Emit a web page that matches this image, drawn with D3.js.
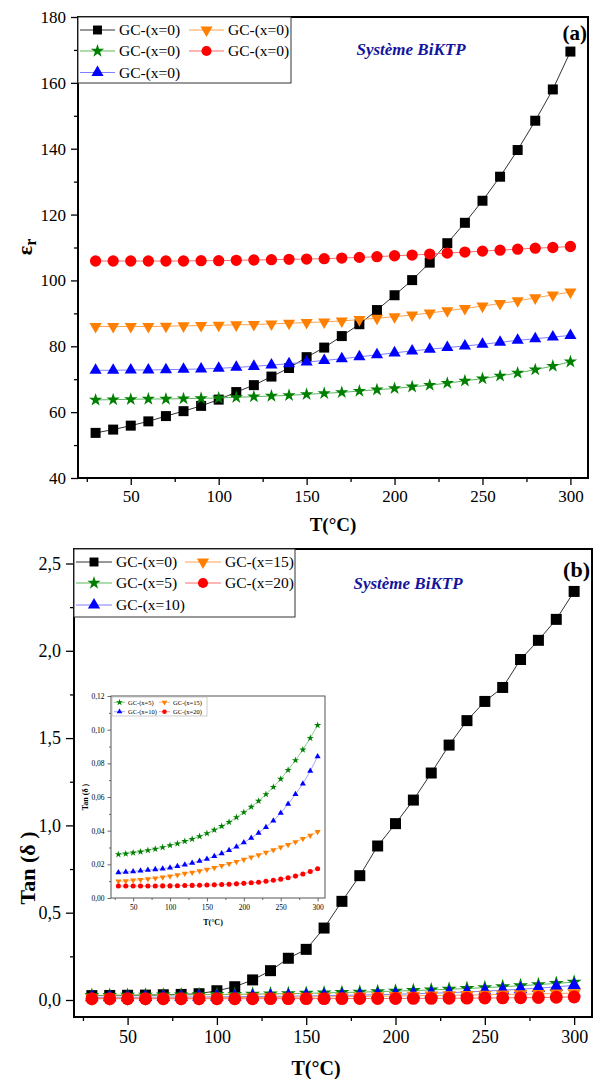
<!DOCTYPE html>
<html><head><meta charset="utf-8">
<script src="https://cdn.jsdelivr.net/npm/d3@7"></script>
<style>body{margin:0;background:#fff} svg{display:block}</style>
</head><body><svg id="c" width="594" height="1079"></svg>
<script>
// ---------- DATA ----------
const temps = [30,40,50,60,70,80,90,100,110,120,130,140,150,160,170,180,190,200,210,220,230,240,250,260,270,280,290,300];

// Panel (a): dielectric permittivity
const epsX0  = [53.7,54.7,55.9,57.2,58.8,60.3,61.9,63.8,66.1,68.2,70.8,73.4,76.7,79.6,83.1,86.7,91.0,95.5,100.1,105.4,111.3,117.5,124.2,131.5,139.6,148.5,158.0,169.5];
const epsX5  = [63.7,63.8,63.9,64.0,64.0,64.1,64.2,64.3,64.5,64.7,64.9,65.1,65.4,65.7,66.0,66.4,66.8,67.2,67.7,68.2,68.8,69.5,70.2,71.0,71.9,72.9,74.0,75.3];
const epsX10 = [72.7,72.7,72.8,72.8,72.9,73.0,73.1,73.3,73.6,73.9,74.3,74.7,75.2,75.7,76.2,76.8,77.4,78.0,78.6,79.1,79.6,80.1,80.6,81.2,81.8,82.3,82.8,83.3];
const epsX15 = [86.0,86.0,86.0,86.0,86.1,86.2,86.3,86.4,86.5,86.6,86.8,87.0,87.2,87.4,87.7,88.1,88.5,89.0,89.5,90.1,90.8,91.5,92.2,93.0,93.8,94.7,95.6,96.5];
const epsX20 = [105.9,105.9,105.9,105.9,105.9,105.9,106.0,106.0,106.1,106.2,106.3,106.4,106.5,106.6,106.8,107.0,107.2,107.5,107.7,108.0,108.3,108.6,108.9,109.2,109.5,109.8,110.0,110.3];

// Panel (b): loss tangent
const tanX0  = [0.025,0.026,0.027,0.028,0.030,0.032,0.036,0.053,0.076,0.115,0.168,0.239,0.290,0.412,0.565,0.712,0.882,1.010,1.145,1.300,1.460,1.600,1.710,1.790,1.950,2.060,2.180,2.340];
const tanX5  = [0.0259,0.0263,0.0269,0.0275,0.0283,0.0291,0.0301,0.0313,0.0323,0.0337,0.0350,0.0366,0.0384,0.0404,0.0426,0.0451,0.0479,0.0509,0.0541,0.0576,0.0616,0.0659,0.0707,0.0760,0.0818,0.0881,0.0950,0.1026];
const tanX10 = [0.0152,0.0154,0.0158,0.0162,0.0166,0.0170,0.0174,0.0180,0.0188,0.0198,0.0208,0.0220,0.0232,0.0248,0.0265,0.0283,0.0305,0.0329,0.0356,0.0386,0.0420,0.0459,0.0505,0.0558,0.0616,0.0679,0.0754,0.0840];
const tanX15 = [0.0099,0.0101,0.0105,0.0109,0.0113,0.0117,0.0123,0.0129,0.0137,0.0145,0.0152,0.0160,0.0170,0.0180,0.0192,0.0204,0.0216,0.0228,0.0242,0.0255,0.0271,0.0285,0.0301,0.0317,0.0333,0.0352,0.0372,0.0394];
const tanX20 = [0.0071,0.0071,0.0071,0.0071,0.0071,0.0071,0.0072,0.0072,0.0073,0.0074,0.0075,0.0076,0.0077,0.0078,0.0080,0.0082,0.0084,0.0087,0.0090,0.0094,0.0099,0.0105,0.0112,0.0120,0.0130,0.0142,0.0157,0.0174];

// legend labels
const legendA = ["GC-(x=0)","GC-(x=0)","GC-(x=0)","GC-(x=0)","GC-(x=0)"];
const legendB = ["GC-(x=0)","GC-(x=5)","GC-(x=10)","GC-(x=15)","GC-(x=20)"];
const legendInset = ["GC-(x=5)","GC-(x=15)","GC-(x=10)","GC-(x=20)"];

// ticks
const xTicks = [50,100,150,200,250,300];
const xMinor = [25,75,125,175,225,275];
const yTicksA = [40,60,80,100,120,140,160,180];
const yMinorA = [50,70,90,110,130,150,170];
const yTicksB = [0,0.5,1.0,1.5,2.0,2.5];
const yMinorB = [0.25,0.75,1.25,1.75,2.25];
const yTicksIn = [0,0.02,0.04,0.06,0.08,0.10,0.12];
const yMinorIn = [0.01,0.03,0.05,0.07,0.09,0.11];

// ---------- STYLES ----------
const styles = [
  {color:"#000000", line:"#333333", sym:"square"},
  {color:"#008000", line:"#5cb85c", sym:"star"},
  {color:"#0000ff", line:"#7f7fff", sym:"up"},
  {color:"#ff8000", line:"#ffa24d", sym:"down"},
  {color:"#ff0000", line:"#ff6b6b", sym:"circle"}
];
const SERIF = "'Liberation Serif','Times New Roman',serif";
const svg = d3.select("#c");

function symPath(kind, size){
  const t = {square:d3.symbolSquare, star:d3.symbolStar, up:d3.symbolTriangle, down:d3.symbolTriangle, circle:d3.symbolCircle}[kind];
  return d3.symbol().type(t).size(size)();
}
function marker(g, kind, cx, cy, size, color){
  g.append("path").attr("d", symPath(kind,size)).attr("fill", color)
   .attr("transform", `translate(${cx},${cy})` + (kind==="down" ? " rotate(180)" : ""));
}
function comma(v, d){ return v.toFixed(d).replace(".", ","); }

function drawAxes(g, x, y, box, o){
  // bottom
  const ax = d3.axisBottom(x).tickValues(xTicks).tickSize(o.major).tickSizeOuter(0).tickPadding(o.pad);
  const gx = g.append("g").attr("transform",`translate(0,${box.b})`).call(ax);
  gx.select(".domain").remove();
  gx.selectAll("text").attr("font-family",SERIF).attr("font-size",o.fs).attr("fill","#000");
  gx.selectAll("line").attr("stroke",o.stroke).attr("stroke-width",o.tw);
  const gxm = g.append("g").attr("transform",`translate(0,${box.b})`).call(d3.axisBottom(x).tickValues(xMinor).tickSize(o.minor).tickFormat(""));
  gxm.select(".domain").remove();
  gxm.selectAll("line").attr("stroke",o.stroke).attr("stroke-width",o.tw);
  // left
  const ay = d3.axisLeft(y).tickValues(o.yt).tickSize(o.major).tickPadding(o.pad).tickFormat(o.fmt);
  const gy = g.append("g").attr("transform",`translate(${box.l},0)`).call(ay);
  gy.select(".domain").remove();
  gy.selectAll("text").attr("font-family",SERIF).attr("font-size",o.fs).attr("fill","#000");
  gy.selectAll("line").attr("stroke",o.stroke).attr("stroke-width",o.tw);
  const gym = g.append("g").attr("transform",`translate(${box.l},0)`).call(d3.axisLeft(y).tickValues(o.ym).tickSize(o.minor).tickFormat(""));
  gym.select(".domain").remove();
  gym.selectAll("line").attr("stroke",o.stroke).attr("stroke-width",o.tw);
}

function drawSeries(g, x, y, series, sizes, lw){
  series.forEach((vals, i) => {
    const st = styles[i];
    const line = d3.line().x((d,j)=>x(temps[j])).y(d=>y(d));
    g.append("path").datum(vals).attr("d", line).attr("fill","none").attr("stroke",st.line).attr("stroke-width",lw);
    vals.forEach((v,j)=> marker(g, st.sym, x(temps[j]), y(v), sizes[st.sym], st.color));
  });
}

function drawLegend(g, entries, o){
  g.append("rect").attr("x",o.x).attr("y",o.y).attr("width",o.w).attr("height",o.h)
    .attr("fill","#fff").attr("stroke",o.border).attr("stroke-width",o.bw);
  entries.forEach(e => {
    const st = styles[e.s];
    const cx = o.cols[e.col], cy = o.rows[e.row];
    g.append("line").attr("x1",cx).attr("x2",cx+o.len).attr("y1",cy).attr("y2",cy).attr("stroke",st.line).attr("stroke-width",o.lw);
    marker(g, st.sym, cx+o.len/2, cy, o.sizes[st.sym], st.color);
    g.append("text").attr("x",cx+o.len+o.gap).attr("y",cy).attr("dy","0.35em")
     .attr("font-family",SERIF).attr("font-size",o.fs).text(e.label);
  });
}

// ---------- PANEL (a) ----------
{
  const box = {l:78, r:588, t:17, b:478};
  const x = d3.scaleLinear().domain([20,310]).range([box.l, box.r]);
  const y = d3.scaleLinear().domain([40,180]).range([box.b, box.t]);
  const g = svg.append("g");
  drawAxes(g, x, y, box, {major:7, minor:4, pad:5, fs:17, tw:1.3, stroke:"#000", yt:yTicksA, ym:yMinorA, fmt:d=>d});
  drawSeries(g, x, y, [epsX0,epsX5,epsX10,epsX15,epsX20],
     {square:100, star:55, up:64, down:64, circle:100}, 1);
  g.append("rect").attr("x",box.l).attr("y",box.t).attr("width",box.r-box.l).attr("height",box.b-box.t)
    .attr("fill","none").attr("stroke","#000").attr("stroke-width",2);
  drawLegend(g, [
     {s:0,label:legendA[0],col:0,row:0},{s:3,label:legendA[1],col:1,row:0},
     {s:1,label:legendA[2],col:0,row:1},{s:4,label:legendA[3],col:1,row:1},
     {s:2,label:legendA[4],col:0,row:2}],
     {x:78,y:17,w:213,h:66,border:"#333",bw:1,cols:[80,189],rows:[30,51,72.5],len:35,gap:4,fs:15.5,lw:1,
      sizes:{square:80, star:55, up:64, down:64, circle:80}});
  g.append("text").attr("x",411).attr("y",49).attr("dy","0.35em").attr("text-anchor","middle")
    .attr("font-family",SERIF).attr("font-weight","bold").attr("font-style","italic").attr("font-size",17)
    .attr("fill","#14149c").text("Système BiKTP");
  g.append("text").attr("x",587).attr("y",40).attr("text-anchor","end")
    .attr("font-family",SERIF).attr("font-weight","bold").attr("font-size",21).text("(a)");
  g.append("text").attr("x",333).attr("y",524).attr("dy","0.35em").attr("text-anchor","middle")
    .attr("font-family",SERIF).attr("font-weight","bold").attr("font-size",19).text("T(°C)");
  const yl = g.append("text").attr("transform","translate(32,247) rotate(-90)").attr("text-anchor","middle")
    .attr("font-family",SERIF).attr("font-weight","bold").attr("font-size",22);
  yl.append("tspan").text("ε");
  yl.append("tspan").attr("font-size",16).attr("dy",4).text("r");
}

// ---------- PANEL (b) ----------
{
  const box = {l:74, r:592, t:549, b:1017};
  const x = d3.scaleLinear().domain([20,310]).range([box.l, box.r]);
  const y = d3.scaleLinear().domain([-0.0974, 2.583]).range([box.b, box.t]);
  const g = svg.append("g");
  drawAxes(g, x, y, box, {major:8, minor:4, pad:5, fs:18, tw:1.3, stroke:"#000", yt:yTicksB, ym:yMinorB, fmt:d=>comma(d,1)});
  drawSeries(g, x, y, [tanX0,tanX5,tanX10,tanX15,tanX20],
     {square:121, star:70, up:80, down:80, circle:130}, 1);
  g.append("rect").attr("x",box.l).attr("y",box.t).attr("width",box.r-box.l).attr("height",box.b-box.t)
    .attr("fill","none").attr("stroke","#000").attr("stroke-width",2);
  drawLegend(g, [
     {s:0,label:legendB[0],col:0,row:0},{s:3,label:legendB[3],col:1,row:0},
     {s:1,label:legendB[1],col:0,row:1},{s:4,label:legendB[4],col:1,row:1},
     {s:2,label:legendB[2],col:0,row:2}],
     {x:74,y:549,w:221,h:68,border:"#333",bw:1,cols:[76,185],rows:[562,583,605],len:36,gap:4,fs:15.5,lw:1,
      sizes:{square:80, star:55, up:64, down:64, circle:80}});
  g.append("text").attr("x",408).attr("y",583).attr("dy","0.35em").attr("text-anchor","middle")
    .attr("font-family",SERIF).attr("font-weight","bold").attr("font-style","italic").attr("font-size",17)
    .attr("fill","#14149c").text("Système BiKTP");
  g.append("text").attr("x",590).attr("y",577).attr("text-anchor","end")
    .attr("font-family",SERIF).attr("font-weight","bold").attr("font-size",22).text("(b)");
  g.append("text").attr("x",316).attr("y",1068).attr("dy","0.35em").attr("text-anchor","middle")
    .attr("font-family",SERIF).attr("font-weight","bold").attr("font-size",20).text("T(°C)");
  g.append("text").attr("transform","translate(35,868) rotate(-90)").attr("text-anchor","middle")
    .attr("font-family",SERIF).attr("font-weight","bold").attr("font-size",22).text("Tan (δ )");

  // ---------- INSET ----------
  const ib = {l:111, r:325, t:696, b:898};
  const xi = d3.scaleLinear().domain([20,310]).range([ib.l, ib.r]);
  const yi = d3.scaleLinear().domain([0,0.12]).range([ib.b, ib.t]);
  const gi = g.append("g");
  gi.append("rect").attr("x",ib.l).attr("y",ib.t).attr("width",ib.r-ib.l).attr("height",ib.b-ib.t).attr("fill","#fff");
  drawAxes(gi, xi, yi, ib, {major:3.5, minor:2, pad:3, fs:7.5, tw:0.8, stroke:"#444", yt:yTicksIn, ym:yMinorIn, fmt:d=>comma(d,2)});
  const inStyles = [null];
  // inset series use styles 1..4 (x=5,10,15,20)
  [[1,tanX5],[2,tanX10],[3,tanX15],[4,tanX20]].forEach(([si, vals]) => {
    const st = styles[si];
    const line = d3.line().x((d,j)=>xi(temps[j])).y(d=>yi(d));
    gi.append("path").datum(vals).attr("d", line).attr("fill","none").attr("stroke",st.line).attr("stroke-width",0.7);
    const sz = {star:16, up:16, down:16, circle:20}[st.sym];
    vals.forEach((v,j)=> marker(gi, st.sym, xi(temps[j]), yi(v), sz, st.color));
  });
  gi.append("rect").attr("x",ib.l).attr("y",ib.t).attr("width",ib.r-ib.l).attr("height",ib.b-ib.t)
    .attr("fill","none").attr("stroke","#555").attr("stroke-width",1);
  drawLegend(gi, [
     {s:1,label:legendInset[0],col:0,row:0},{s:3,label:legendInset[1],col:1,row:0},
     {s:2,label:legendInset[2],col:0,row:1},{s:4,label:legendInset[3],col:1,row:1}],
     {x:112,y:697,w:95,h:19,border:"#aaa",bw:0.6,cols:[114,159],rows:[702.3,711.7],len:11,gap:3,fs:6.5,lw:0.7,
      sizes:{star:14, up:14, down:14, circle:16}});
  gi.append("text").attr("x",213).attr("y",922).attr("dy","0.35em").attr("text-anchor","middle")
    .attr("font-family",SERIF).attr("font-weight","bold").attr("font-size",8).text("T(°C)");
  gi.append("text").attr("transform","translate(88,797) rotate(-90)").attr("text-anchor","middle")
    .attr("font-family",SERIF).attr("font-weight","bold").attr("font-size",8).text("Tan (δ )");
}
</script></body></html>
